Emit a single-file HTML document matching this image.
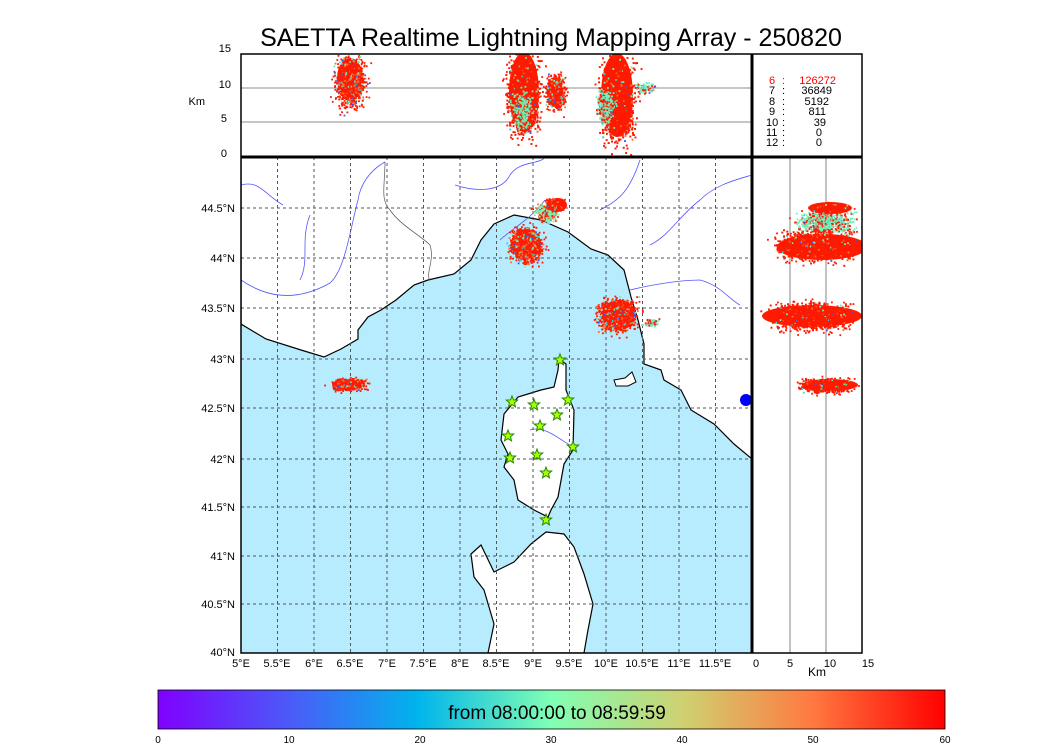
<!DOCTYPE html>
<html><head><meta charset="utf-8"><style>
body{margin:0;background:#fff;width:1050px;height:750px;overflow:hidden;font-family:"Liberation Sans",sans-serif}
</style></head><body>
<svg id="s" width="1050" height="750" xmlns="http://www.w3.org/2000/svg" font-family="Liberation Sans, sans-serif">
<defs>
<linearGradient id="rb" x1="0" x2="1" y1="0" y2="0">
<stop offset="0" stop-color="#8000ff"/><stop offset="0.17" stop-color="#4a5cf8"/><stop offset="0.33" stop-color="#00b4ec"/><stop offset="0.5" stop-color="#80ffb4"/><stop offset="0.67" stop-color="#d0d070"/><stop offset="0.83" stop-color="#ff7a40"/><stop offset="1" stop-color="#ff0000"/>
</linearGradient>
<clipPath id="cm"><rect x="241" y="157" width="511" height="496"/></clipPath>
<clipPath id="ct"><rect x="241" y="54" width="621" height="103"/></clipPath>
<clipPath id="cr"><rect x="752" y="157" width="110" height="496"/></clipPath>
</defs>
<text x="551" y="46" font-size="25" text-anchor="middle">SAETTA Realtime Lightning Mapping Array - 250820</text>
<g clip-path="url(#cm)">
<rect x="241" y="157" width="511" height="496" fill="#b6ecfd"/>
<polygon fill="#fff" stroke="#000" stroke-width="1.2" points="241,157 752,157 752,459 734,444 714,424 691,410 681,390 664,380 661,370 644,364 644,344 638,320 631,297 624,270 608,255 591,249 568,232 541,220 514,215 494,224 481,240 471,260 454,274 428,280 414,285 396,300 381,310 368,317 358,330 358,339 341,349 324,357 301,350 266,339 241,324"/>
<polygon fill="#fff" stroke="#000" stroke-width="1.2" points="559,359 566,364 566,390 574,410 573,450 564,464 558,497 551,510 548,517 534,510 518,500 514,480 504,467 508,454 501,440 504,414 518,397 541,390 554,387 558,370"/>
<polygon fill="#fff" stroke="#000" stroke-width="1.2" points="546,532 564,534 574,547 584,574 593,604 588,630 584,653 488,653 494,624 484,590 474,577 471,554 481,545 494,572 514,562 531,544"/>
<polygon fill="#fff" stroke="#000" stroke-width="1" points="614,380 625,378 632,372 636,382 628,386 616,386"/>
<ellipse cx="746" cy="400" rx="6" ry="6" fill="#0000ff"/>
<g fill="none" stroke="#5555ff" stroke-width="0.8">
<path d="M241,185 C260,180 265,195 283,205"/>
<path d="M241,280 C270,300 300,300 330,283 C345,270 350,230 358,200 C360,185 370,170 385,162"/>
<path d="M310,215 C300,240 310,260 300,280"/>
<path d="M455,185 C470,190 500,195 510,175 C520,160 540,165 545,157"/>
<path d="M500,240 C510,230 530,220 545,200"/>
<path d="M600,210 C620,200 630,190 640,160"/>
<path d="M650,245 C670,235 680,215 700,200 C715,185 735,180 752,175"/>
<path d="M630,290 C650,285 680,280 700,280 C720,285 730,300 740,305"/>
<path d="M530,430 C545,425 560,440 573,447"/>
</g>
<g fill="none" stroke="#555" stroke-width="0.7">
<path d="M385,162 C385,185 380,200 390,210 C400,225 420,235 430,245 C435,260 425,275 430,280"/>
</g>
<g stroke="#555" stroke-width="1" stroke-dasharray="3,3">
<line x1="277.5" y1="157" x2="277.5" y2="653"/><line x1="314" y1="157" x2="314" y2="653"/><line x1="350.5" y1="157" x2="350.5" y2="653"/><line x1="387" y1="157" x2="387" y2="653"/><line x1="423.5" y1="157" x2="423.5" y2="653"/><line x1="460" y1="157" x2="460" y2="653"/><line x1="496.5" y1="157" x2="496.5" y2="653"/><line x1="533" y1="157" x2="533" y2="653"/><line x1="569.5" y1="157" x2="569.5" y2="653"/><line x1="606" y1="157" x2="606" y2="653"/><line x1="642.5" y1="157" x2="642.5" y2="653"/><line x1="679" y1="157" x2="679" y2="653"/><line x1="715.5" y1="157" x2="715.5" y2="653"/>
<line x1="241" y1="208" x2="752" y2="208"/><line x1="241" y1="258" x2="752" y2="258"/><line x1="241" y1="308" x2="752" y2="308"/><line x1="241" y1="359" x2="752" y2="359"/><line x1="241" y1="408" x2="752" y2="408"/><line x1="241" y1="459" x2="752" y2="459"/><line x1="241" y1="507" x2="752" y2="507"/><line x1="241" y1="556" x2="752" y2="556"/><line x1="241" y1="604" x2="752" y2="604"/>
</g>
<g id="mapdots"></g>
<g id="stars" fill="#aaff00" stroke="#228800" stroke-width="1"></g>
</g>
<g clip-path="url(#ct)">
<line x1="241" y1="88" x2="752" y2="88" stroke="#666" stroke-width="0.8"/>
<line x1="241" y1="122" x2="752" y2="122" stroke="#666" stroke-width="0.8"/>
<g id="topdots"></g>
</g>
<g clip-path="url(#cr)">
<line x1="790" y1="157" x2="790" y2="653" stroke="#666" stroke-width="0.8"/>
<line x1="826" y1="157" x2="826" y2="653" stroke="#666" stroke-width="0.8"/>
<g id="rdots"></g>
</g>
<g fill="none" stroke="#000">
<rect x="241" y="54" width="621" height="599" stroke-width="1.5"/>
<line x1="241" y1="157" x2="862" y2="157" stroke-width="3"/>
<line x1="752" y1="54" x2="752" y2="653" stroke-width="3"/>
</g>
<g font-size="11" fill="#000">
<text x="769" y="84" fill="#ff0000">6</text><text x="782" y="84" fill="#ff0000">:</text><text x="836" y="84" fill="#ff0000" text-anchor="end">126272</text>
<text x="769" y="94">7</text><text x="782" y="94">:</text><text x="832" y="94" text-anchor="end">36849</text>
<text x="769" y="105">8</text><text x="782" y="105">:</text><text x="829" y="105" text-anchor="end">5192</text>
<text x="769" y="115">9</text><text x="782" y="115">:</text><text x="826" y="115" text-anchor="end">811</text>
<text x="766" y="126">10</text><text x="782" y="126">:</text><text x="826" y="126" text-anchor="end">39</text>
<text x="766" y="136">11</text><text x="782" y="136">:</text><text x="822" y="136" text-anchor="end">0</text>
<text x="766" y="146">12</text><text x="782" y="146">:</text><text x="822" y="146" text-anchor="end">0</text>
</g>
<g font-size="11" text-anchor="end">
<text x="231" y="52">15</text><text x="231" y="88">10</text><text x="227" y="122">5</text><text x="227" y="157">0</text>
<text x="205" y="105">Km</text>
<text x="235" y="212">44.5°N</text><text x="235" y="262">44°N</text><text x="235" y="312">43.5°N</text><text x="235" y="363">43°N</text><text x="235" y="412">42.5°N</text><text x="235" y="463">42°N</text><text x="235" y="511">41.5°N</text><text x="235" y="560">41°N</text><text x="235" y="608">40.5°N</text><text x="235" y="656">40°N</text>
</g>
<g font-size="11" text-anchor="middle">
<text x="241" y="667">5°E</text><text x="277" y="667">5.5°E</text><text x="314" y="667">6°E</text><text x="350" y="667">6.5°E</text><text x="387" y="667">7°E</text><text x="423" y="667">7.5°E</text><text x="460" y="667">8°E</text><text x="496" y="667">8.5°E</text><text x="533" y="667">9°E</text><text x="569" y="667">9.5°E</text><text x="606" y="667">10°E</text><text x="642" y="667">10.5°E</text><text x="679" y="667">11°E</text><text x="715" y="667">11.5°E</text>
<text x="756" y="667">0</text><text x="790" y="667">5</text><text x="830" y="667">10</text><text x="868" y="667">15</text>
<text x="817" y="676" font-size="12">Km</text>
</g>
<rect x="158" y="690" width="787" height="39" fill="url(#rb)" stroke="#000" stroke-width="0.8"/>
<text x="557" y="719" font-size="19" text-anchor="middle">from 08:00:00 to 08:59:59</text>
<g font-size="10" text-anchor="middle">
<text x="158" y="743">0</text><text x="289" y="743">10</text><text x="420" y="743">20</text><text x="551" y="743">30</text><text x="682" y="743">40</text><text x="813" y="743">50</text><text x="945" y="743">60</text>
</g>
</svg>
<script>
var seed=12345;function r(){seed=(seed*1103515245+12345)%2147483648;return seed/2147483648;}
function g(){return (r()+r()+r()+r()-2)/2;}
function col(){var v=r();if(v<0.75)return "#ff1a00";if(v<0.86)return "#ff6a3a";if(v<0.94)return "#70f0b0";if(v<0.98)return "#30d8e0";return "#3060ff";}
function blob(id,cx,cy,rx,ry,n,c){var G=document.getElementById(id),h="";for(var i=0;i<n;i++){var x=cx+g()*rx,y=cy+g()*ry;h+='<rect x="'+x.toFixed(1)+'" y="'+y.toFixed(1)+'" width="1.8" height="1.8" fill="'+(c&&r()<0.6?c:col())+'"/>';}G.insertAdjacentHTML("beforeend",h);}
function solid(id,cx,cy,rx,ry){document.getElementById(id).insertAdjacentHTML("beforeend",'<ellipse cx="'+cx+'" cy="'+cy+'" rx="'+rx+'" ry="'+ry+'" fill="#ff1a00"/>');}
// map
blob("mapdots",546,212,18,14,400,"#80f0b0");solid("mapdots",557,205,10,7);blob("mapdots",555,204,14,10,300,"#ff1a00");
solid("mapdots",526,244,15,15);blob("mapdots",526,245,26,26,1200);
solid("mapdots",619,315,17,15);blob("mapdots",617,315,30,25,1200);blob("mapdots",650,322,12,5,80,"#70f0c0");
solid("mapdots",350,384,15,5);blob("mapdots",348,384,26,10,500);
// top
solid("topdots",350,78,13,20);blob("topdots",350,82,24,40,900);
solid("topdots",524,92,15,40);blob("topdots",523,95,26,60,2200,"#ff1a00");blob("topdots",522,110,18,30,300,"#70f0b0");
solid("topdots",555,92,8,15);blob("topdots",555,93,15,28,600);
solid("topdots",617,95,16,42);blob("topdots",617,100,28,65,2400,"#ff1a00");blob("topdots",605,105,14,30,300,"#70f0c0");blob("topdots",645,87,14,8,100,"#70f0c0");
// right
blob("rdots",825,222,45,18,700,"#70f0c0");solid("rdots",830,208,22,6);blob("rdots",830,208,30,8,200,"#ff1a00");
solid("rdots",822,247,45,13);blob("rdots",815,245,60,24,1500,"#ff1a00");
solid("rdots",812,316,50,11);blob("rdots",810,316,62,22,1500,"#ff1a00");
solid("rdots",830,385,28,6);blob("rdots",825,385,42,12,500,"#ff1a00");
var st=[[560,360],[512,402],[534,405],[568,400],[557,415],[540,426],[508,436],[573,447],[537,455],[510,458],[546,473],[546,520]];
var sh="";st.forEach(function(p){var pts=[];for(var k=0;k<10;k++){var a=-Math.PI/2+k*Math.PI/5,R=k%2?2.6:6;pts.push((p[0]+R*Math.cos(a)).toFixed(1)+","+(p[1]+R*Math.sin(a)).toFixed(1));}sh+='<polygon points="'+pts.join(" ")+'"/>';});
document.getElementById("stars").innerHTML=sh;
</script>
</body></html>
